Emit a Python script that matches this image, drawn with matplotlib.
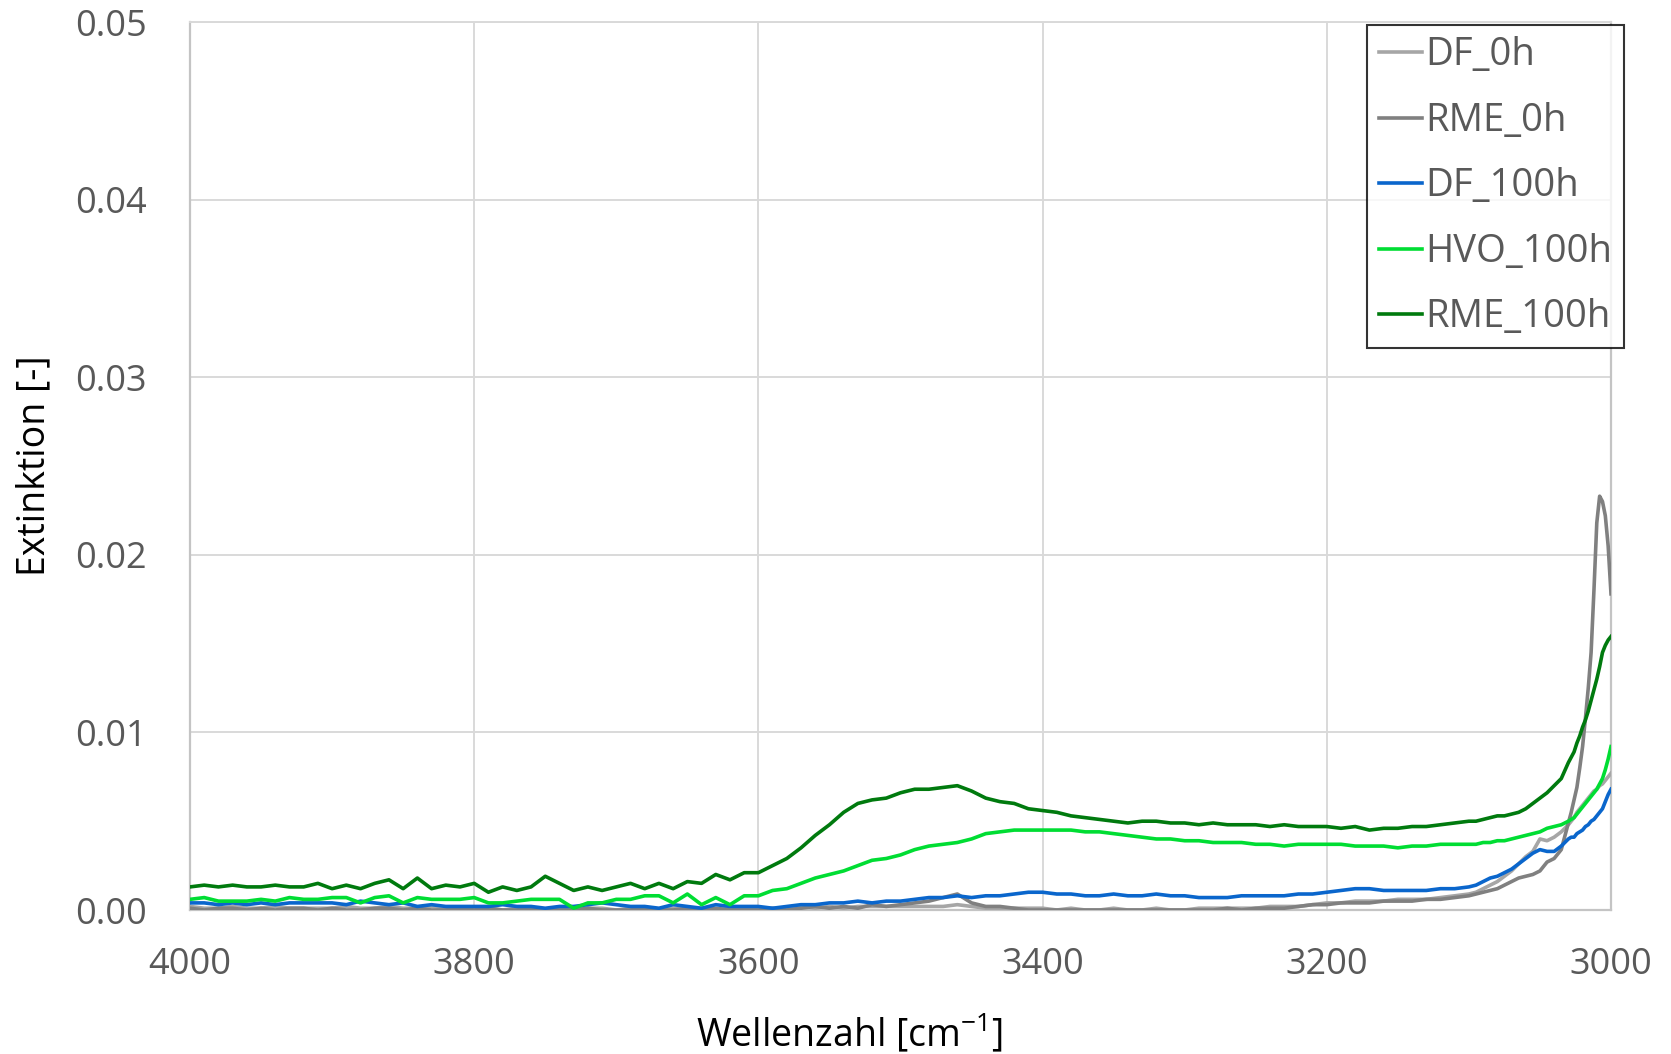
import numpy as np
import matplotlib
matplotlib.use("Agg")
import matplotlib.pyplot as plt

plt.rcParams['font.family'] = ['Open Sans', 'DejaVu Sans']
plt.rcParams['mathtext.fontset'] = 'custom'
plt.rcParams['mathtext.rm'] = 'Open Sans'

# wavenumber grid: coarse in the flat part, finer towards the C-H edge
wellenzahl = np.concatenate([
    np.arange(4000, 3100, -10),
    np.arange(3100, 3030, -5),
    np.arange(3030, 2999, -2),
])

df_0h = [
    0.0002, 0.0001, 0.0001, 0.0002, 0.0001, 0.0001, 0.0002, 0.0001, 0.0001, 0.0001,
    0.0001, 0.0002, 0.0001, 0.0001, 0.0002, 0.0001, 0.0001, 0.0002, 0.0001, 0.0001,
    0.0001, 0.0001, 0.0000, 0.0001, 0.0001, 0.0000, 0.0001, 0.0000, 0.0001, 0.0001,
    0.0000, 0.0001, 0.0001, 0.0000, 0.0001, 0.0000, 0.0001, 0.0000, 0.0001, 0.0001,
    0.0001, 0.0000, 0.0001, 0.0002, 0.0001, 0.0002, 0.0001, 0.0002, 0.0002, 0.0002,
    0.0002, 0.0002, 0.0002, 0.0002, 0.0003, 0.0002, 0.0001, 0.0001, 0.0001, 0.0001,
    0.0001, 0.0000, 0.0001, 0.0000, 0.0000, 0.0001, 0.0000, 0.0000, 0.0001, 0.0000,
    0.0000, 0.0001, 0.0001, 0.0001, 0.0001, 0.0001, 0.0002, 0.0002, 0.0002, 0.0003,
    0.0004, 0.0004, 0.0005, 0.0005, 0.0005, 0.0006, 0.0006, 0.0006, 0.0007, 0.0008,
    0.0009, 0.0010, 0.0012, 0.0014, 0.0016, 0.0019, 0.0022, 0.0026, 0.0030, 0.0033,
    0.0040, 0.0039, 0.0041, 0.0044,
    0.0048, 0.0050, 0.0052, 0.0055, 0.0057, 0.0059, 0.0061, 0.0063, 0.0065, 0.0067,
    0.0068, 0.0070, 0.0071, 0.0073, 0.0075, 0.0077,
]

rme_0h = [
    0.0001, 0.0000, 0.0001, 0.0001, 0.0000, 0.0001, 0.0000, 0.0001, 0.0001, 0.0000,
    0.0001, 0.0000, 0.0000, 0.0001, 0.0001, 0.0000, 0.0001, 0.0000, 0.0000, 0.0001,
    0.0000, 0.0001, 0.0000, 0.0000, 0.0001, 0.0000, 0.0000, 0.0000, 0.0001, 0.0000,
    0.0000, 0.0000, 0.0001, 0.0000, 0.0000, 0.0001, 0.0000, 0.0001, 0.0000, 0.0000,
    0.0000, 0.0001, 0.0000, 0.0001, 0.0002, 0.0001, 0.0002, 0.0001, 0.0003, 0.0002,
    0.0003, 0.0004, 0.0005, 0.0007, 0.0009, 0.0004, 0.0002, 0.0002, 0.0001, 0.0000,
    0.0000, 0.0000, 0.0000, 0.0000, 0.0000, 0.0000, 0.0000, 0.0000, 0.0000, 0.0000,
    0.0000, 0.0000, 0.0000, 0.0001, 0.0000, 0.0001, 0.0001, 0.0001, 0.0002, 0.0003,
    0.0003, 0.0004, 0.0004, 0.0004, 0.0005, 0.0005, 0.0005, 0.0006, 0.0006, 0.0007,
    0.0008, 0.0009, 0.0010, 0.0011, 0.0012, 0.0014, 0.0016, 0.0018, 0.0019, 0.0020,
    0.0022, 0.0027, 0.0029, 0.0034,
    0.0049, 0.0055, 0.0062, 0.0069, 0.0080, 0.0092, 0.0108, 0.0125, 0.0145, 0.0180,
    0.0218, 0.0233, 0.0230, 0.0222, 0.0205, 0.0178,
]

df_100h = [
    0.0004, 0.0004, 0.0003, 0.0004, 0.0003, 0.0004, 0.0003, 0.0004, 0.0004, 0.0004,
    0.0004, 0.0003, 0.0005, 0.0004, 0.0003, 0.0004, 0.0002, 0.0003, 0.0002, 0.0002,
    0.0002, 0.0002, 0.0003, 0.0002, 0.0002, 0.0001, 0.0002, 0.0002, 0.0003, 0.0004,
    0.0003, 0.0002, 0.0002, 0.0001, 0.0003, 0.0002, 0.0001, 0.0003, 0.0002, 0.0002,
    0.0002, 0.0001, 0.0002, 0.0003, 0.0003, 0.0004, 0.0004, 0.0005, 0.0004, 0.0005,
    0.0005, 0.0006, 0.0007, 0.0007, 0.0008, 0.0007, 0.0008, 0.0008, 0.0009, 0.0010,
    0.0010, 0.0009, 0.0009, 0.0008, 0.0008, 0.0009, 0.0008, 0.0008, 0.0009, 0.0008,
    0.0008, 0.0007, 0.0007, 0.0007, 0.0008, 0.0008, 0.0008, 0.0008, 0.0009, 0.0009,
    0.0010, 0.0011, 0.0012, 0.0012, 0.0011, 0.0011, 0.0011, 0.0011, 0.0012, 0.0012,
    0.0013, 0.0014, 0.0016, 0.0018, 0.0019, 0.0021, 0.0023, 0.0026, 0.0029, 0.0032,
    0.0034, 0.0033, 0.0033, 0.0036,
    0.0040, 0.0041, 0.0041, 0.0043, 0.0044, 0.0045, 0.0047, 0.0048, 0.0050, 0.0051,
    0.0053, 0.0055, 0.0057, 0.0061, 0.0065, 0.0068,
]

hvo_100h = [
    0.0006, 0.0007, 0.0005, 0.0005, 0.0005, 0.0006, 0.0005, 0.0007, 0.0006, 0.0006,
    0.0007, 0.0007, 0.0004, 0.0007, 0.0008, 0.0004, 0.0007, 0.0006, 0.0006, 0.0006,
    0.0007, 0.0004, 0.0004, 0.0005, 0.0006, 0.0006, 0.0006, 0.0001, 0.0004, 0.0004,
    0.0006, 0.0006, 0.0008, 0.0008, 0.0004, 0.0009, 0.0003, 0.0007, 0.0003, 0.0008,
    0.0008, 0.0011, 0.0012, 0.0015, 0.0018, 0.0020, 0.0022, 0.0025, 0.0028, 0.0029,
    0.0031, 0.0034, 0.0036, 0.0037, 0.0038, 0.0040, 0.0043, 0.0044, 0.0045, 0.0045,
    0.0045, 0.0045, 0.0045, 0.0044, 0.0044, 0.0043, 0.0042, 0.0041, 0.0040, 0.0040,
    0.0039, 0.0039, 0.0038, 0.0038, 0.0038, 0.0037, 0.0037, 0.0036, 0.0037, 0.0037,
    0.0037, 0.0037, 0.0036, 0.0036, 0.0036, 0.0035, 0.0036, 0.0036, 0.0037, 0.0037,
    0.0037, 0.0037, 0.0038, 0.0038, 0.0039, 0.0039, 0.0040, 0.0041, 0.0042, 0.0043,
    0.0044, 0.0046, 0.0047, 0.0048,
    0.0050, 0.0051, 0.0052, 0.0054, 0.0056, 0.0058, 0.0060, 0.0062, 0.0064, 0.0066,
    0.0068, 0.0071, 0.0074, 0.0079, 0.0085, 0.0092,
]

rme_100h = [
    0.0013, 0.0014, 0.0013, 0.0014, 0.0013, 0.0013, 0.0014, 0.0013, 0.0013, 0.0015,
    0.0012, 0.0014, 0.0012, 0.0015, 0.0017, 0.0012, 0.0018, 0.0012, 0.0014, 0.0013,
    0.0015, 0.0010, 0.0013, 0.0011, 0.0013, 0.0019, 0.0015, 0.0011, 0.0013, 0.0011,
    0.0013, 0.0015, 0.0012, 0.0015, 0.0012, 0.0016, 0.0015, 0.0020, 0.0017, 0.0021,
    0.0021, 0.0025, 0.0029, 0.0035, 0.0042, 0.0048, 0.0055, 0.0060, 0.0062, 0.0063,
    0.0066, 0.0068, 0.0068, 0.0069, 0.0070, 0.0067, 0.0063, 0.0061, 0.0060, 0.0057,
    0.0056, 0.0055, 0.0053, 0.0052, 0.0051, 0.0050, 0.0049, 0.0050, 0.0050, 0.0049,
    0.0049, 0.0048, 0.0049, 0.0048, 0.0048, 0.0048, 0.0047, 0.0048, 0.0047, 0.0047,
    0.0047, 0.0046, 0.0047, 0.0045, 0.0046, 0.0046, 0.0047, 0.0047, 0.0048, 0.0049,
    0.0050, 0.0050, 0.0051, 0.0052, 0.0053, 0.0053, 0.0054, 0.0055, 0.0057, 0.0060,
    0.0063, 0.0066, 0.0070, 0.0074,
    0.0083, 0.0086, 0.0089, 0.0094, 0.0098, 0.0103, 0.0107, 0.0112, 0.0118, 0.0124,
    0.0130, 0.0137, 0.0145, 0.0149, 0.0152, 0.0154,
]

labels = ['DF_0h', 'RME_0h', 'DF_100h', 'HVO_100h', 'RME_100h']
colors = ['#A6A6A6', '#808080', '#0A66CC', '#00DD33', '#007A0E']
series = [df_0h, rme_0h, df_100h, hvo_100h, rme_100h]

x_ticks = [4000, 3800, 3600, 3400, 3200, 3000]
y_ticks = [0.0, 0.01, 0.02, 0.03, 0.04, 0.05]

fig = plt.figure(figsize=(16.71, 10.54), dpi=100)
ax = fig.add_axes([190 / 1671, 144 / 1054, 1421 / 1671, 888 / 1054])

for vals, lab, col in zip(series, labels, colors):
    ax.plot(wellenzahl, vals, color=col, lw=2.6, label=lab, zorder=3,
            solid_joinstyle='round')

ax.set_xlim(4000, 3000)
ax.set_ylim(0, 0.05)
ax.set_xticks(x_ticks)
ax.set_yticks(y_ticks)
ax.set_yticklabels([f"{v:.2f}" for v in y_ticks])
ax.grid(True, color='#D9D9D9', lw=1.4, zorder=0)
ax.tick_params(length=0, labelsize=26, labelcolor='#595959')
ax.tick_params(axis='y', pad=31)
ax.tick_params(axis='x', pad=27)
for side in ['left', 'bottom', 'right']:
    ax.spines[side].set_color('#C4C4C4')
    ax.spines[side].set_linewidth(1.6)
ax.spines['top'].set_color('#D9D9D9')
ax.spines['top'].set_linewidth(1.4)

ax.set_ylabel('Extinktion [-]', fontsize=27, color='black', labelpad=16)
ax.set_xlabel(r'Wellenzahl [cm$^{\mathregular{-1}}$]', fontsize=27, color='black')
ax.xaxis.set_label_coords(0.464, -0.115)

leg = ax.legend(loc='upper right', bbox_to_anchor=(1624 / 1671, 1 - 25 / 1054),
                bbox_transform=fig.transFigure, borderaxespad=0, fontsize=27.5,
                frameon=True, fancybox=False, handlelength=1.15, handletextpad=0.08,
                labelspacing=0.72, borderpad=0.3)
leg.get_frame().set_edgecolor('black')
leg.get_frame().set_linewidth(1.5)
for t in leg.get_texts():
    t.set_color('#595959')
for h in leg.get_lines():
    h.set_linewidth(2.6)

fig.savefig('out.png', dpi=100, facecolor='white')
